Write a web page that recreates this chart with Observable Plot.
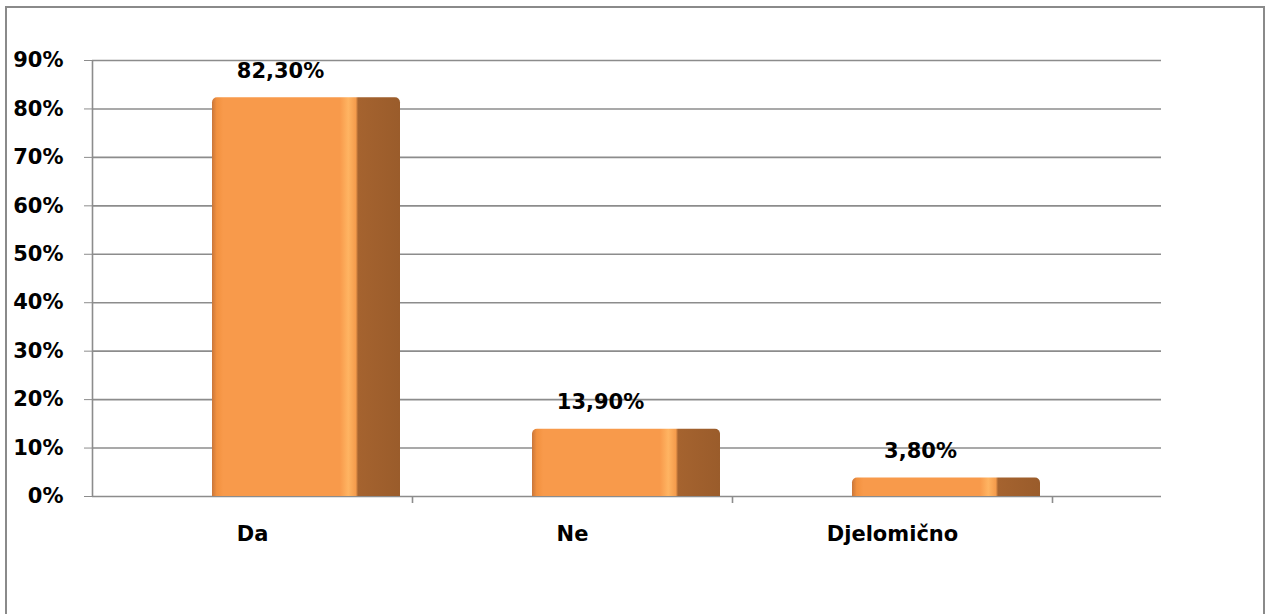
<!DOCTYPE html>
<html>
<head>
<meta charset="utf-8">
<script src="https://cdn.jsdelivr.net/npm/d3@7"></script>
<script src="https://cdn.jsdelivr.net/npm/@observablehq/plot@0.6"></script>
<style>
  body { margin: 0; background: #fff; }
  #wrap { position: relative; width: 1266px; height: 614px; overflow: hidden; background: #fff; }
  #border { position: absolute; left: 5px; top: 6px; width: 1256px; height: 700px; border: 2px solid #8a8a8a; border-bottom: none; }
  #wrap svg { position: absolute; left: 0; top: 0; }
</style>
</head>
<body>
<div id="wrap"><div id="border"></div></div>
<script>
const categories = ["Da", "Ne", "Djelomično"];
const values = [82.3, 13.9, 3.8];
const valueLabels = ["82,30%", "13,90%", "3,80%"];
const yTicks = [0, 10, 20, 30, 40, 50, 60, 70, 80, 90];

const data = categories.map((c, i) => ({ category: c, value: values[i], label: valueLabels[i] }));
const gray = "#8c8c8c";

const chart = Plot.plot({
  width: 1266,
  height: 614,
  marginLeft: 92,
  marginRight: 105,
  marginTop: 60,
  marginBottom: 118,
  style: { fontFamily: "'DejaVu Sans', sans-serif", fontSize: "21px", fontWeight: "bold", color: "#000", background: "transparent" },
  x: { domain: categories, range: [92, 1052], padding: 0 },
  y: { domain: [0, 90] },
  marks: [
    Plot.ruleY(yTicks, { stroke: gray, strokeWidth: 1.6 }),
    Plot.ruleX(["Da"], { x: d => d, dx: -160, y1: 0, y2: 90, stroke: gray, strokeWidth: 1.6 }),
    Plot.ruleX(categories, { x: d => d, dx: 160, y1: 0, y2: 0, insetBottom: -7, stroke: gray, strokeWidth: 1.6 }),
    Plot.barY(data, { x: "category", y: "value", fill: "url(#barGrad)", insetLeft: 120, insetRight: 12, rx: 5 }),
    Plot.barY(data, { x: "category", y1: 0, y2: d => Math.min(d.value, 1.5), fill: "url(#barGrad)", insetLeft: 120, insetRight: 12 }),
    Plot.text(data, { x: "category", y: "value", text: "label", dx: 28, dy: -27, fill: "#000" }),
    Plot.axisY({ ticks: yTicks, tickFormat: d => d + "%", tickSize: 8, tickPadding: 21, stroke: gray, fill: "#000", label: null }),
    Plot.axisX({ tickSize: 0, tickPadding: 30, label: null, fill: "#000" })
  ]
});

const defs = d3.select(chart).insert("defs", ":first-child");
const g = defs.append("linearGradient").attr("id", "barGrad").attr("x1", 0).attr("x2", 1).attr("y1", 0).attr("y2", 0);
[
  [0, "#c9763a"], [0.025, "#f2913f"], [0.06, "#f89a4b"], [0.68, "#f89a4b"],
  [0.725, "#ffb462"], [0.765, "#f59c4c"], [0.777, "#a5632f"], [1, "#9a5c2b"]
].forEach(([o, c]) => g.append("stop").attr("offset", o).attr("stop-color", c));

document.getElementById("wrap").appendChild(chart);
</script>
</body>
</html>
